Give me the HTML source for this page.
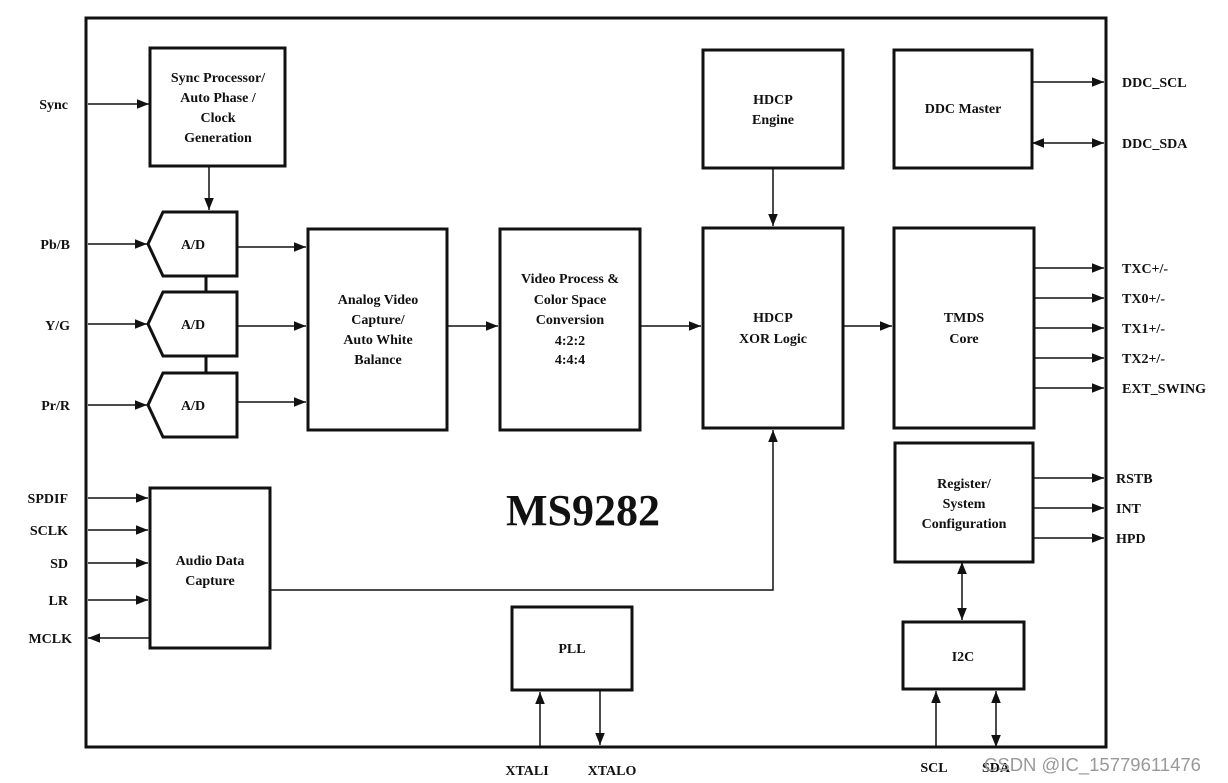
<!DOCTYPE html>
<html><head><style>body{margin:0;background:#fff}svg{display:block}text{font-family:"Liberation Serif",serif;font-weight:bold;font-size:14px;fill:#111}</style></head><body>
<svg width="1228" height="783" viewBox="0 0 1228 783">
<defs><marker id="a" viewBox="0 0 10 10" refX="10" refY="5" markerWidth="12" markerHeight="12" markerUnits="userSpaceOnUse" orient="auto-start-reverse"><path d="M0,1L10,5L0,9z" fill="#111"/></marker></defs>
<g fill="none" stroke="#111" stroke-width="3">
<rect x="86" y="18" width="1020" height="729"/>
<rect x="150" y="48" width="135" height="118"/>
<path d="M163,212H237V276H163L148,244Z"/>
<path d="M163,292H237V356H163L148,324Z"/>
<path d="M163,373H237V437H163L148,405Z"/>
<path d="M206,276V292M206,356V373"/>
<rect x="308" y="229" width="139" height="201"/>
<rect x="500" y="229" width="140" height="201"/>
<rect x="703" y="228" width="140" height="200"/>
<rect x="703" y="50" width="140" height="118"/>
<rect x="894" y="50" width="138" height="118"/>
<rect x="894" y="228" width="140" height="200"/>
<rect x="895" y="443" width="138" height="119"/>
<rect x="903" y="622" width="121" height="67"/>
<rect x="150" y="488" width="120" height="160"/>
<rect x="512" y="607" width="120" height="83"/>
</g>
<g stroke="#111" stroke-width="1.5" fill="none" marker-end="url(#a)">
<path d="M88,104H149"/><path d="M209,166V210"/>
<path d="M88,244H147"/><path d="M88,324H147"/><path d="M88,405H147"/>
<path d="M237,247H306"/><path d="M237,326H306"/><path d="M237,402H306"/>
<path d="M447,326H498"/><path d="M640,326H701"/><path d="M843,326H892"/>
<path d="M773,168V226"/><path d="M270,590H773V430"/>
<path d="M1032,82H1104"/><path d="M1032,143H1104" marker-start="url(#a)"/>
<path d="M1034,268H1104"/><path d="M1034,298H1104"/><path d="M1034,328H1104"/><path d="M1034,358H1104"/><path d="M1034,388H1104"/>
<path d="M1033,478H1104"/><path d="M1033,508H1104"/><path d="M1033,538H1104"/>
<path d="M962,562V620" marker-start="url(#a)"/>
<path d="M88,498H148"/><path d="M88,530H148"/><path d="M88,563H148"/><path d="M88,600H148"/><path d="M150,638H88"/>
<path d="M540,747V692"/><path d="M600,690V745"/>
<path d="M936,747V691"/><path d="M996,747V691" marker-start="url(#a)"/>
</g>
<g text-anchor="middle">
<text x="218" y="82">Sync Processor/</text><text x="218" y="102">Auto Phase /</text><text x="218" y="122">Clock</text><text x="218" y="142">Generation</text>
<text x="193" y="249">A/D</text><text x="193" y="329">A/D</text><text x="193" y="410">A/D</text>
<text x="378" y="304">Analog Video</text><text x="378" y="324">Capture/</text><text x="378" y="344">Auto White</text><text x="378" y="364">Balance</text>
<text x="570" y="283">Video Process &amp;</text><text x="570" y="304">Color Space</text><text x="570" y="324">Conversion</text><text x="570" y="345">4:2:2</text><text x="570" y="364">4:4:4</text>
<text x="773" y="104">HDCP</text><text x="773" y="124">Engine</text>
<text x="963" y="113">DDC Master</text>
<text x="773" y="322">HDCP</text><text x="773" y="343">XOR Logic</text>
<text x="964" y="322">TMDS</text><text x="964" y="343">Core</text>
<text x="964" y="488">Register/</text><text x="964" y="508">System</text><text x="964" y="528">Configuration</text>
<text x="963" y="661">I2C</text>
<text x="210" y="565">Audio Data</text><text x="210" y="585">Capture</text>
<text x="572" y="653">PLL</text>
<text x="583" y="525" style="font-size:44px">MS9282</text>
<text x="527" y="775">XTALI</text><text x="612" y="775">XTALO</text><text x="934" y="772">SCL</text><text x="996" y="772">SDA</text>
</g>
<g text-anchor="end">
<text x="68" y="109">Sync</text><text x="70" y="249">Pb/B</text><text x="70" y="330">Y/G</text><text x="70" y="410">Pr/R</text>
<text x="68" y="503">SPDIF</text><text x="68" y="535">SCLK</text><text x="68" y="568">SD</text><text x="68" y="605">LR</text><text x="72" y="643">MCLK</text>
</g>
<g>
<text x="1122" y="87">DDC_SCL</text><text x="1122" y="148">DDC_SDA</text>
<text x="1122" y="273">TXC+/-</text><text x="1122" y="303">TX0+/-</text><text x="1122" y="333">TX1+/-</text><text x="1122" y="363">TX2+/-</text><text x="1122" y="393">EXT_SWING</text>
<text x="1116" y="483">RSTB</text><text x="1116" y="513">INT</text><text x="1116" y="543">HPD</text>
<text x="984" y="771" style="font-family:'Liberation Sans',sans-serif;font-weight:normal;font-size:18.5px;fill:#999">CSDN @IC_15779611476</text>
</g>
</svg>
</body></html>
